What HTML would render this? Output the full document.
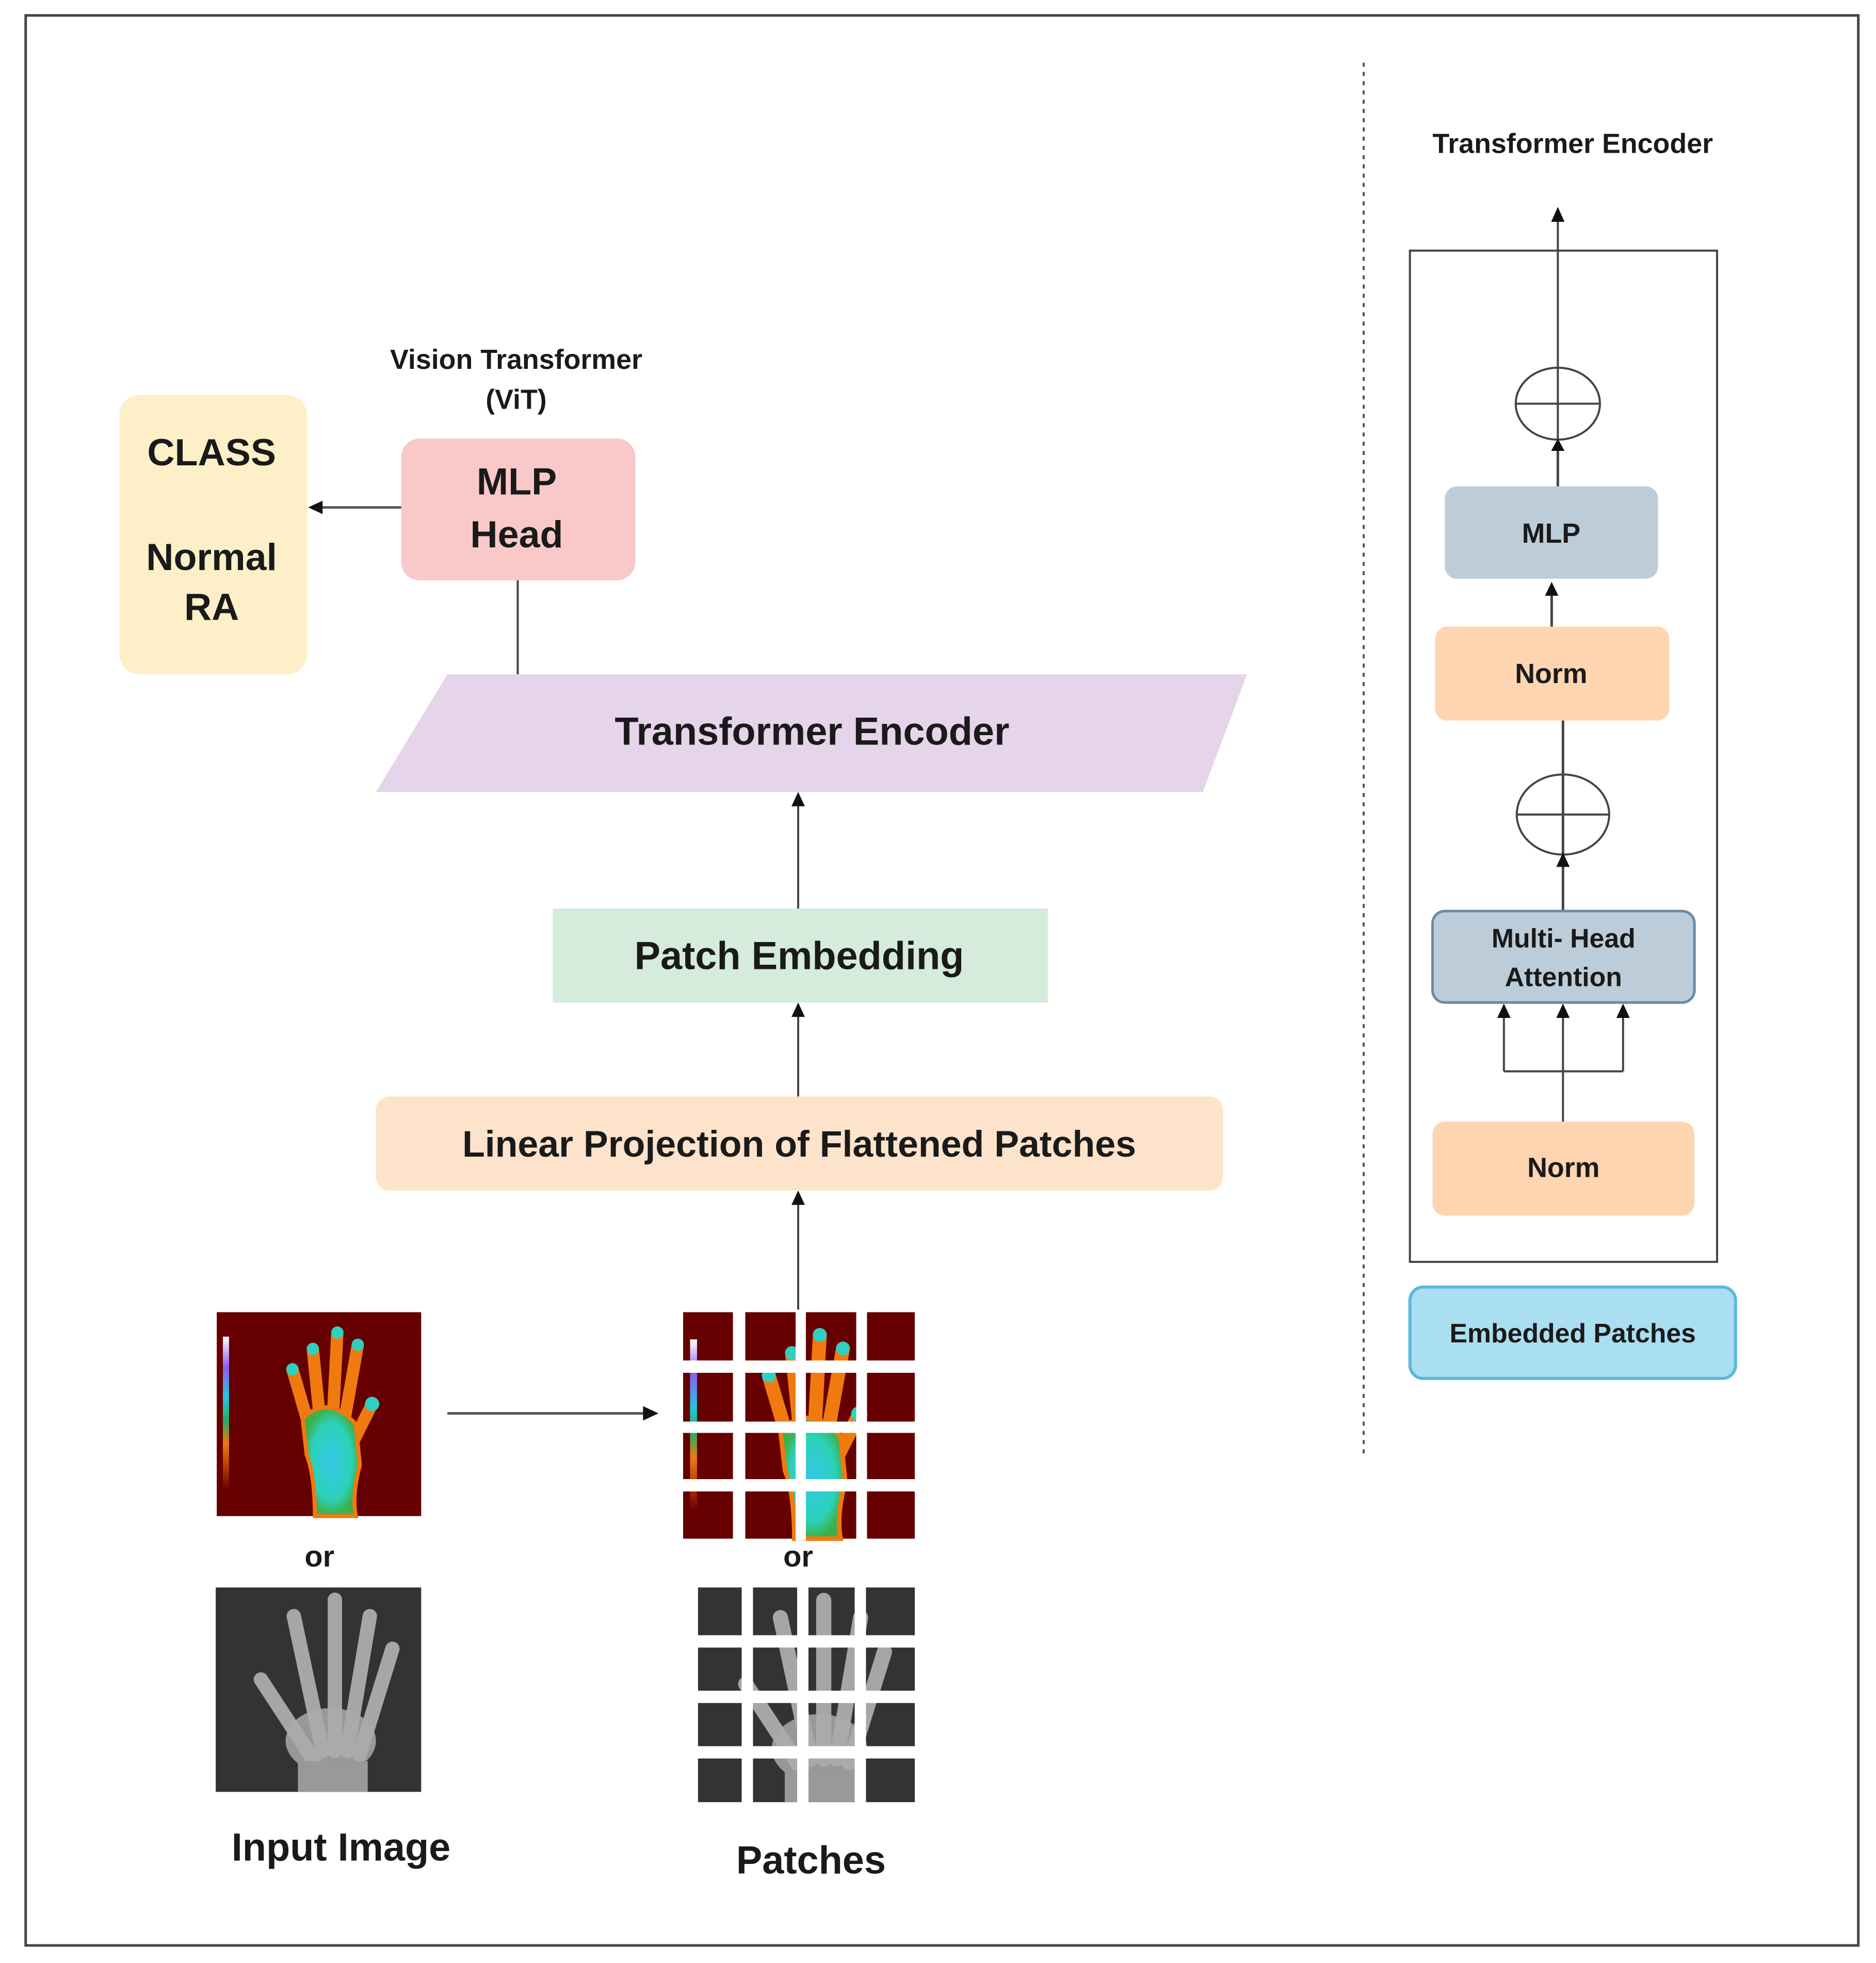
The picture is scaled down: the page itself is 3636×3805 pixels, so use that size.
<!DOCTYPE html>
<html><head><meta charset="utf-8"><style>
html,body{margin:0;padding:0;background:#fff;}
svg{display:block;}
text{font-family:"Liberation Sans",sans-serif;font-weight:bold;fill:#1a1a1a;text-anchor:middle;}
</style></head><body>
<svg width="3636" height="3805" viewBox="0 0 3636 3805" xmlns="http://www.w3.org/2000/svg">
<defs>
<linearGradient id="cb" x1="0" y1="0" x2="0" y2="1">
<stop offset="0" stop-color="#ffffff"/><stop offset="0.2" stop-color="#8a5cf0"/><stop offset="0.4" stop-color="#22c8e0"/><stop offset="0.55" stop-color="#20b060"/><stop offset="0.7" stop-color="#f07a10"/><stop offset="1" stop-color="#700000"/>
</linearGradient>
<radialGradient id="palm" cx="0.5" cy="0.5" r="0.5"><stop offset="0" stop-color="#35c6e8"/><stop offset="0.7" stop-color="#2bd2b8"/><stop offset="1" stop-color="#3cb04a"/></radialGradient>
<g id="th">
<rect x="0" y="0" width="100" height="100" fill="#660000"/>
<rect x="3" y="12" width="3" height="75" fill="url(#cb)"/>
<g stroke-linecap="round" fill="none">
<path d="M44 52 L37 28" stroke="#f07a10" stroke-width="6"/>
<path d="M50 48 L47 18" stroke="#f07a10" stroke-width="6"/>
<path d="M57 48 L59 10" stroke="#f07a10" stroke-width="6"/>
<path d="M63 50 L69 16" stroke="#f07a10" stroke-width="6"/>
<path d="M66 65 L76 45" stroke="#f07a10" stroke-width="6"/>
</g>
<circle cx="37" cy="28" r="3" fill="#30d0c0"/><circle cx="47" cy="18" r="3" fill="#30d0c0"/><circle cx="59" cy="10" r="3" fill="#30d0c0"/><circle cx="69" cy="16" r="3" fill="#30d0c0"/><circle cx="76" cy="45" r="3.5" fill="#30d0c0"/>
<path d="M42 52 Q55 40 68 55 L70 75 Q66 90 68 100 L48 100 Q48 80 44 70 Z" fill="url(#palm)" stroke="#f07a10" stroke-width="2"/>
</g>
<g id="xr">
<rect x="0" y="0" width="100" height="100" fill="#333"/>
<g stroke="#bbb" stroke-linecap="round" fill="none" stroke-width="7" opacity="0.85">
<path d="M48 85 L22 45"/><path d="M52 80 L38 14"/><path d="M58 80 L58 6"/><path d="M64 80 L75 14"/><path d="M70 82 L86 30"/>
</g>
<ellipse cx="56" cy="75" rx="22" ry="16" fill="#aaa" opacity="0.85"/>
<rect x="40" y="85" width="34" height="15" fill="#999"/>
</g>
</defs>
<g transform="scale(0.9955)">
<!-- outer border -->
<rect x="50" y="30" width="3568" height="3758" fill="none" stroke="#444" stroke-width="5"/>
<line x1="2655" y1="122" x2="2655" y2="2830" stroke="#555" stroke-width="4" stroke-dasharray="8,10"/>

<!-- right side -->
<text x="3062" y="298" font-size="54">Transformer Encoder</text>
<rect x="2745" y="488" width="598" height="1969" fill="none" stroke="#444" stroke-width="4"/>
<line x1="3033" y1="856" x2="3033" y2="420" stroke="#444" stroke-width="4"/>
<polygon points="3033,403 3020,432 3046,432" fill="#111"/>
<ellipse cx="3033" cy="786" rx="82" ry="70" fill="none" stroke="#444" stroke-width="4"/>
<line x1="2951" y1="786" x2="3115" y2="786" stroke="#444" stroke-width="4"/>
<line x1="3033" y1="856" x2="3033" y2="947" stroke="#444" stroke-width="5"/>
<polygon points="3033,854 3020,878 3046,878" fill="#111"/>
<rect x="2813" y="947" width="415" height="180" rx="24" fill="#bccdd9"/>
<text x="3020" y="1057" font-size="54">MLP</text>
<line x1="3021" y1="1140" x2="3021" y2="1220" stroke="#444" stroke-width="5"/>
<polygon points="3021,1133 3008,1160 3034,1160" fill="#111"/>
<rect x="2794" y="1220" width="456" height="183" rx="24" fill="#fdd5b0"/>
<text x="3020" y="1330" font-size="54">Norm</text>
<line x1="3043" y1="1403" x2="3043" y2="1774" stroke="#444" stroke-width="5"/>
<ellipse cx="3043" cy="1586" rx="90" ry="78" fill="none" stroke="#444" stroke-width="4"/>
<line x1="2953" y1="1586" x2="3133" y2="1586" stroke="#444" stroke-width="4"/>
<polygon points="3043,1660 3030,1688 3056,1688" fill="#111"/>
<rect x="2789" y="1774" width="510" height="178" rx="24" fill="#bccdd9" stroke="#6b8aa5" stroke-width="5"/>
<text x="3044" y="1845" font-size="52">Multi- Head</text>
<text x="3044" y="1920" font-size="52">Attention</text>
<path d="M3043 2184 L3043 1962 M2928 2086 L3160 2086 M2928 2086 L2928 1962 M3160 2086 L3160 1962" stroke="#444" stroke-width="4" fill="none"/>
<polygon points="2928,1954 2915,1982 2941,1982" fill="#111"/>
<polygon points="3043,1954 3030,1982 3056,1982" fill="#111"/>
<polygon points="3160,1954 3147,1982 3173,1982" fill="#111"/>
<rect x="2789" y="2184" width="510" height="183" rx="24" fill="#fdd5b0"/>
<text x="3044" y="2292" font-size="54">Norm</text>
<rect x="2745" y="2506" width="634" height="178" rx="26" fill="#a9dff0" stroke="#5bb8dc" stroke-width="6"/>
<text x="3062" y="2614" font-size="52">Embedded Patches</text>

<!-- left side -->
<text x="1005" y="718" font-size="54" font-weight="normal">Vision Transformer</text>
<text x="1005" y="796" font-size="54" font-weight="normal">(ViT)</text>
<rect x="232" y="769" width="366" height="544" rx="40" fill="#fdf0c8"/>
<text x="412" y="906" font-size="74">CLASS</text>
<text x="412" y="1110" font-size="74">Normal</text>
<text x="412" y="1207" font-size="74">RA</text>
<rect x="781" y="854" width="456" height="276" rx="36" fill="#f9c9c9"/>
<text x="1006" y="963" font-size="74">MLP</text>
<text x="1006" y="1066" font-size="74">Head</text>
<line x1="781" y1="988" x2="620" y2="988" stroke="#555" stroke-width="5"/>
<polygon points="600,988 628,975 628,1001" fill="#111"/>
<line x1="1008" y1="1130" x2="1008" y2="1313" stroke="#444" stroke-width="4"/>
<polygon points="871,1313 2428,1313 2342,1542 732,1542" fill="#e6d4ea"/>
<text x="1581" y="1450" font-size="76">Transformer Encoder</text>
<line x1="1554" y1="1769" x2="1554" y2="1560" stroke="#444" stroke-width="4"/>
<polygon points="1554,1542 1541,1570 1567,1570" fill="#111"/>
<rect x="1076" y="1769" width="964" height="183" fill="#d5ebdc"/>
<text x="1556" y="1887" font-size="76">Patch Embedding</text>
<line x1="1554" y1="2135" x2="1554" y2="1970" stroke="#444" stroke-width="4"/>
<polygon points="1554,1952 1541,1980 1567,1980" fill="#111"/>
<rect x="732" y="2135" width="1649" height="183" rx="26" fill="#fde3cc"/>
<text x="1556" y="2252" font-size="72">Linear Projection of Flattened Patches</text>
<line x1="1554" y1="2550" x2="1554" y2="2336" stroke="#444" stroke-width="4"/>
<polygon points="1554,2318 1541,2346 1567,2346" fill="#111"/>

<use href="#th" transform="translate(422,2555) scale(3.98,3.97)"/>
<line x1="871" y1="2752" x2="1260" y2="2752" stroke="#555" stroke-width="5"/>
<polygon points="1282,2752 1252,2738 1252,2766" fill="#111"/>
<use href="#th" transform="translate(1330,2555) scale(4.51,4.41)"/>
<g fill="#fff">
<rect x="1427" y="2550" width="24" height="450"/><rect x="1549" y="2550" width="20" height="450"/><rect x="1667" y="2550" width="21" height="450"/>
<rect x="1325" y="2649" width="460" height="24"/><rect x="1325" y="2768" width="460" height="22"/><rect x="1325" y="2880" width="460" height="24"/>
</g>
<text x="622" y="3050" font-size="58">or</text>
<text x="1554" y="3050" font-size="58">or</text>
<use href="#xr" transform="translate(420,3091) scale(4,3.98)"/>
<use href="#xr" transform="translate(1359,3091) scale(4.22,4.18)"/>
<g fill="#fff">
<rect x="1444" y="3085" width="22" height="430"/><rect x="1552" y="3085" width="22" height="430"/><rect x="1664" y="3085" width="22" height="430"/>
<rect x="1355" y="3184" width="430" height="24"/><rect x="1355" y="3292" width="430" height="24"/><rect x="1355" y="3400" width="430" height="24"/>
</g>
<text x="664" y="3623" font-size="76">Input Image</text>
<text x="1579" y="3648" font-size="76">Patches</text>
</g>
</svg>
</body></html>
